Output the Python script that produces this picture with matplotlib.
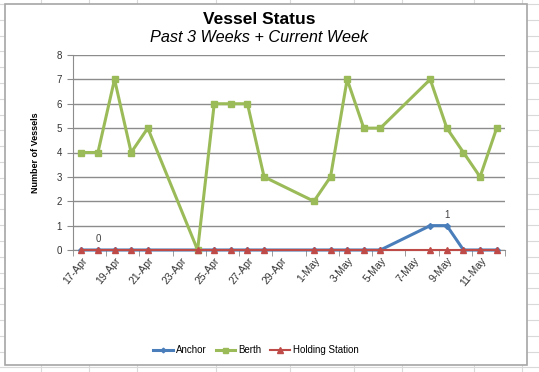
import numpy as np
import matplotlib
matplotlib.use('Agg')
import matplotlib.pyplot as plt
from matplotlib.patches import Rectangle
import datetime as dt

# datas (dias com registro)
datas = ['2013-04-17', '2013-04-18', '2013-04-19', '2013-04-20', '2013-04-21',
         '2013-04-24', '2013-04-25', '2013-04-26', '2013-04-27', '2013-04-28',
         '2013-05-01', '2013-05-02', '2013-05-03', '2013-05-04', '2013-05-05',
         '2013-05-08', '2013-05-09', '2013-05-10', '2013-05-11', '2013-05-12']
anchor = [0, 0, 0, 0, 0, 0, 0, 0, 0, 0, 0, 0, 0, 0, 0, 1, 1, 0, 0, 0]
berth = [4, 4, 7, 4, 5, 0, 6, 6, 6, 3, 2, 3, 7, 5, 5, 7, 5, 4, 3, 5]
holding = [0] * 20

x = [dt.datetime.strptime(d, '%Y-%m-%d') for d in datas]

plt.rcParams['font.family'] = ['Liberation Sans', 'DejaVu Sans']

W, H = 539, 372
fig = plt.figure(figsize=(W / 100, H / 100), dpi=100)

# grade da planilha ao fundo
bg = fig.add_axes([0, 0, 1, 1])
bg.set_xlim(0, W)
bg.set_ylim(H, 0)
bg.axis('off')
for xv in [41, 89, 137, 216, 290, 354, 402, 474, 522]:
    bg.axvline(xv, color='#d9d9d9', lw=0.8)
for yv in np.arange(4, H, 15.8):
    bg.axhline(yv, color='#d9d9d9', lw=0.8)
bg.add_patch(Rectangle((5, 4), 522, 361, facecolor='white', edgecolor='#a6a6a6', lw=1.2, zorder=3))

ax = fig.add_axes([73 / W, 1 - 250 / H, (505 - 73) / W, (250 - 55) / H])
ax.set_zorder(5)
ax.patch.set_alpha(0)

ax.plot(x, anchor, color='#4a7ebb', lw=2.2, marker='D', ms=3, label='Anchor', zorder=3, clip_on=False)
ax.plot(x, berth, color='#9bbb59', lw=2.2, marker='s', ms=4.5, label='Berth', zorder=4, clip_on=False)
ax.plot(x, holding, color='#be4b48', lw=1.5, marker='^', ms=5, label='Holding Station', zorder=5, clip_on=False)

ax.text(x[1], 0.25, '0', ha='center', va='bottom', fontsize=7, color='#404040')
ax.text(x[16], 1.25, '1', ha='center', va='bottom', fontsize=7, color='#404040')

inicio = dt.datetime(2013, 4, 16, 12)
fim = dt.datetime(2013, 5, 12, 12)
ax.set_xlim(inicio, fim)
ax.set_ylim(0, 8)
ax.set_yticks(range(9))
ax.yaxis.grid(True, color='#8c8c8c', lw=1)
ax.set_axisbelow(True)

# rotulos a cada 2 dias, marcas entre eles
rot = [dt.datetime(2013, 4, 17) + dt.timedelta(days=2 * i) for i in range(13)]
ax.set_xticks(rot)
ax.set_xticklabels([d.strftime('%-d-%b') for d in rot], rotation=50, ha='right',
                   rotation_mode='anchor', fontsize=7.5, color='#333333')
ax.tick_params(axis='x', length=0, pad=4)
marcas = [inicio + dt.timedelta(days=2 * i) for i in range(14)]
ax.set_xticks(marcas, minor=True)
ax.tick_params(axis='x', which='minor', length=4, color='#8c8c8c', direction='out')
ax.tick_params(axis='y', length=4, color='#8c8c8c', labelsize=7, labelcolor='#333333', pad=4)

for s in ['top', 'right']:
    ax.spines[s].set_visible(False)
ax.spines['left'].set_color('#8c8c8c')
ax.spines['bottom'].set_color('#8c8c8c')

ax.set_ylabel('Number of Vessels', fontsize=6.5, fontweight='bold', labelpad=12)

fig.text(259 / W, 1 - 20 / H, 'Vessel Status', ha='center', va='center', fontsize=12.5,
         fontweight='bold', zorder=10)
fig.text(259 / W, 1 - 38 / H, 'Past 3 Weeks + Current Week', ha='center', va='center',
         fontsize=11.7, style='italic', zorder=10)

leg = fig.legend(*ax.get_legend_handles_labels(), loc='center', bbox_to_anchor=(256 / W, 1 - 350 / H),
                 ncol=3, frameon=False, fontsize=7, handlelength=2.0, columnspacing=0.9,
                 handletextpad=0.35, markerscale=0.8)
leg.set_zorder(10)

fig.savefig('out.png', dpi=100)
